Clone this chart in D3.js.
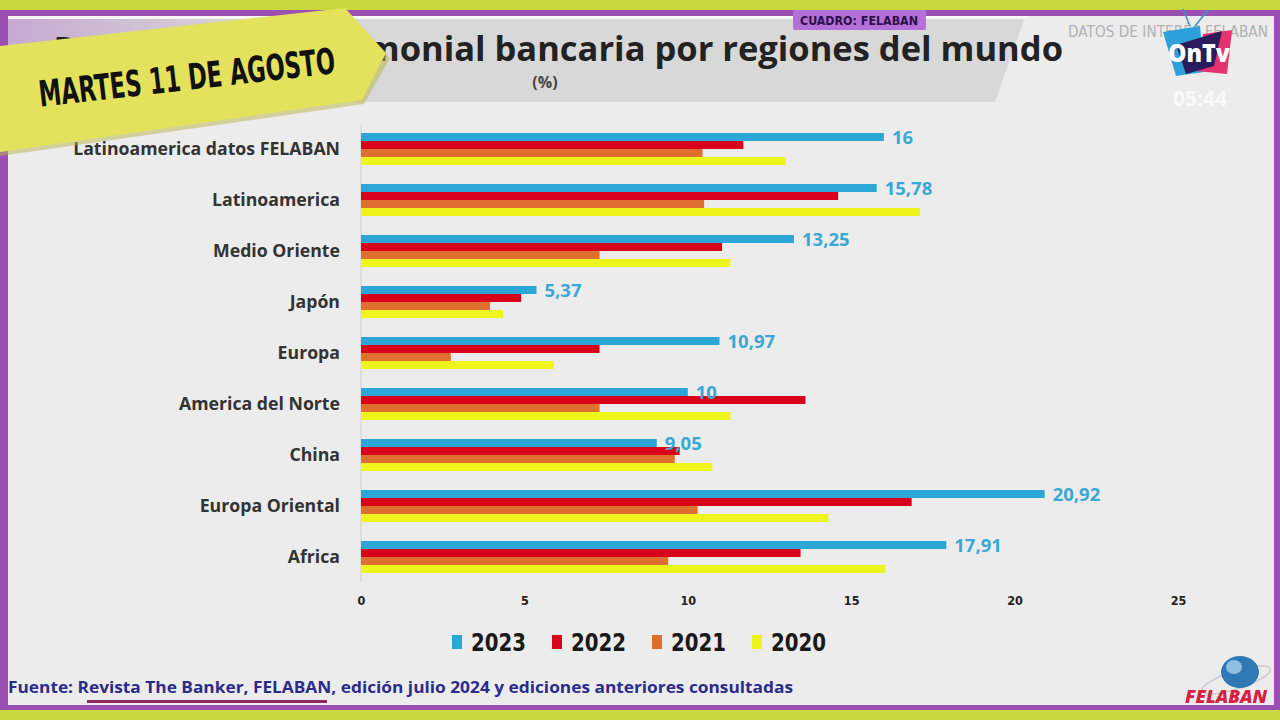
<!DOCTYPE html>
<html>
<head>
<meta charset="utf-8">
<script src="https://cdn.jsdelivr.net/npm/d3@7"></script>
<style>
  html, body { margin: 0; padding: 0; background: #c9d83c; }
  svg { display: block; }
  .cond { font-family: "DejaVu Sans Condensed", "DejaVu Sans", sans-serif; font-stretch: condensed; }
  .os { font-family: "Open Sans", "Noto Sans", sans-serif; }
</style>
</head>
<body>
<svg id="chart" width="1280" height="720"></svg>
<script>
// data (rentabilidad patrimonial, %)
const categories = ["Latinoamerica datos FELABAN", "Latinoamerica", "Medio Oriente", "Japón",
  "Europa", "America del Norte", "China", "Europa Oriental", "Africa"];
const years = ["2023", "2022", "2021", "2020"];
const v2023 = [16, 15.78, 13.25, 5.37, 10.97, 10, 9.05, 20.92, 17.91];
const v2022 = [11.7, 14.6, 11.05, 4.9, 7.3, 13.6, 9.75, 16.85, 13.45];
const v2021 = [10.45, 10.5, 7.3, 3.95, 2.75, 7.3, 9.6, 10.3, 9.4];
const v2020 = [13.0, 17.1, 11.3, 4.35, 5.9, 11.3, 10.75, 14.3, 16.05];
const xTicks = [0, 5, 10, 15, 20, 25];

const series = { "2023": v2023, "2022": v2022, "2021": v2021, "2020": v2020 };
const colors = { "2023": "#2ba6d6", "2022": "#d9001c", "2021": "#de6f2e", "2020": "#eef51c" };

const svg = d3.select("#chart");

// ---- frame ----
svg.append("rect").attr("width", 1280).attr("height", 720).attr("fill", "#c9d83c");
svg.append("rect").attr("x", 0).attr("y", 10).attr("width", 1280).attr("height", 700).attr("fill", "#9b4fb3");
svg.append("rect").attr("x", 8).attr("y", 16).attr("width", 1266).attr("height", 689).attr("fill", "#ececec");

const defs = svg.append("defs");
const grad = defs.append("linearGradient").attr("id", "bandgrad").attr("x1", "0").attr("x2", "1");
grad.append("stop").attr("offset", "0").attr("stop-color", "#c7a9d2");
grad.append("stop").attr("offset", "0.25").attr("stop-color", "#d8d8d8");
grad.append("stop").attr("offset", "1").attr("stop-color", "#d8d8d8");

// title band
svg.append("polygon")
  .attr("points", "8,17 1025,17 995,102 8,102")
  .attr("fill", "url(#bandgrad)");
svg.append("rect").attr("x", 8).attr("y", 16).attr("width", 1020).attr("height", 3).attr("fill", "#f6f6f6");

svg.append("text").attr("class", "os")
  .attr("x", 1063).attr("y", 61)
  .attr("text-anchor", "end")
  .attr("font-size", 34.5).attr("font-weight", 700).attr("fill", "#222")
  .text("Rentabilidad patrimonial bancaria por regiones del mundo");
svg.append("text").attr("class", "os")
  .attr("x", 545).attr("y", 88)
  .attr("text-anchor", "middle")
  .attr("font-size", 16).attr("font-weight", 700).attr("fill", "#444")
  .text("(%)");

// badge + header
svg.append("rect").attr("x", 793).attr("y", 10).attr("width", 133).attr("height", 20)
  .attr("rx", 2).attr("fill", "#b56fd8");
svg.append("text").attr("class", "cond")
  .attr("x", 859).attr("y", 25).attr("text-anchor", "middle")
  .attr("font-size", 13).attr("font-weight", 700).attr("fill", "#2b0f45")
  .attr("textLength", 118).attr("lengthAdjust", "spacingAndGlyphs")
  .text("CUADRO: FELABAN");
svg.append("text").attr("class", "cond")
  .attr("x", 1268).attr("y", 37).attr("text-anchor", "end")
  .attr("font-size", 15).attr("fill", "#b2b2b2")
  .attr("textLength", 200).attr("lengthAdjust", "spacingAndGlyphs")
  .text("DATOS DE INTERÉS FELABAN");

// ---- scales ----
const x = d3.scaleLinear().domain([0, 25]).range([361, 1178]);
const y = d3.scaleBand().domain(categories).range([123.5, 582.5])
  .paddingInner(0.3725).paddingOuter(0.186);
const yInner = d3.scaleBand().domain(years).range([0, y.bandwidth()]);

const fmt = d3.formatLocale({ decimal: ",", thousands: ".", grouping: [3], currency: ["", ""] }).format("~f");

// faint axis line
svg.append("line").attr("x1", x(0)).attr("x2", x(0))
  .attr("y1", 125).attr("y2", 582).attr("stroke", "#d0d0d0");

// ---- bars ----
const groups = svg.append("g").selectAll("g")
  .data(categories)
  .join("g")
  .attr("transform", d => `translate(0,${y(d)})`);

groups.selectAll("rect")
  .data((d, i) => years.map(yr => ({ year: yr, value: series[yr][i] })))
  .join("rect")
  .attr("x", x(0))
  .attr("y", d => yInner(d.year))
  .attr("width", d => x(d.value) - x(0))
  .attr("height", yInner.bandwidth())
  .attr("fill", d => colors[d.year]);

// value labels (2023 only)
groups.append("text").attr("class", "os")
  .attr("x", (d, i) => x(v2023[i]) + 8)
  .attr("y", yInner("2023") + yInner.bandwidth() / 2 + 7)
  .attr("font-size", 18.5).attr("font-weight", 700).attr("fill", "#3aa8d4")
  .text((d, i) => fmt(v2023[i]));

// category labels
svg.append("g").selectAll("text")
  .data(categories)
  .join("text").attr("class", "os")
  .attr("x", 340)
  .attr("y", d => y(d) + y.bandwidth() / 2 + 6)
  .attr("text-anchor", "end")
  .attr("font-size", 17.7).attr("font-weight", 700).attr("fill", "#333")
  .text(d => d);

// x axis
const xAxis = svg.append("g")
  .attr("transform", "translate(0,592)")
  .call(d3.axisBottom(x).tickValues(xTicks).tickSize(0).tickPadding(0).tickFormat(d3.format("d")));
xAxis.select(".domain").remove();
xAxis.selectAll("text").attr("class", "cond")
  .attr("font-size", 12.5).attr("font-weight", 700).attr("fill", "#222").attr("dy", "1em");

// ---- legend ----
const legend = svg.append("g").selectAll("g")
  .data(years)
  .join("g")
  .attr("transform", (d, i) => `translate(${452 + i * 100},0)`);
legend.append("rect").attr("x", 0).attr("y", 635).attr("width", 10).attr("height", 14)
  .attr("fill", d => colors[d]);
legend.append("text").attr("class", "cond")
  .attr("x", 19).attr("y", 651)
  .attr("font-size", 25).attr("font-weight", 700).attr("fill", "#1a1a1a")
  .attr("textLength", 55).attr("lengthAdjust", "spacingAndGlyphs")
  .text(d => d);

// ---- source ----
svg.append("text").attr("class", "os")
  .attr("x", 8).attr("y", 693)
  .attr("font-size", 16).attr("font-weight", 700).attr("fill", "#2b2b8c")
  .attr("textLength", 785).attr("lengthAdjust", "spacingAndGlyphs")
  .text("Fuente: Revista The Banker, FELABAN, edición julio 2024 y ediciones anteriores consultadas");
svg.append("rect").attr("x", 87).attr("y", 700).attr("width", 240).attr("height", 3).attr("fill", "#8f2a5c");

// FELABAN logo
const logo = svg.append("g");
logo.append("ellipse").attr("cx", 1236).attr("cy", 680).attr("rx", 36).attr("ry", 9)
  .attr("fill", "none").attr("stroke", "#c9c9d6").attr("stroke-width", 1.5)
  .attr("transform", "rotate(-18 1236 680)");
logo.append("ellipse").attr("cx", 1240).attr("cy", 672).attr("rx", 19).attr("ry", 16).attr("fill", "#2f78b4");
logo.append("ellipse").attr("cx", 1234).attr("cy", 667).attr("rx", 8).attr("ry", 7).attr("fill", "#8fc1e6");
logo.append("text").attr("class", "os")
  .attr("x", 1226).attr("y", 703).attr("text-anchor", "middle")
  .attr("font-size", 17).attr("font-weight", 800).attr("font-style", "italic").attr("fill", "#d5213f")
  .attr("textLength", 82).attr("lengthAdjust", "spacingAndGlyphs")
  .text("FELABAN");

// ---- date banner ----
svg.append("polygon")
  .attr("points", "0,50 345,12 390,58 364,104 0,156")
  .attr("fill", "#b9b64a").attr("opacity", 0.5);
svg.append("polygon")
  .attr("points", "0,46 345,8 386,53 362,100 0,152")
  .attr("fill", "#e4e25c");
svg.append("text").attr("class", "cond")
  .attr("x", 187).attr("y", 90)
  .attr("text-anchor", "middle")
  .attr("transform", "rotate(-6.5 187 78)")
  .attr("font-size", 36).attr("font-weight", 700).attr("fill", "#111")
  .attr("textLength", 298).attr("lengthAdjust", "spacingAndGlyphs")
  .text("MARTES 11 DE AGOSTO");

// ---- OnTv bug ----
const tv = svg.append("g");
tv.append("line").attr("x1", 1190).attr("y1", 26).attr("x2", 1183).attr("y2", 9).attr("stroke", "#3a90c8").attr("stroke-width", 1.5);
tv.append("line").attr("x1", 1195).attr("y1", 26).attr("x2", 1208).attr("y2", 10).attr("stroke", "#3a90c8").attr("stroke-width", 1.5);
tv.append("polygon").attr("points", "1163,32 1200,26 1204,72 1176,76").attr("fill", "#2d9fd9");
tv.append("polygon").attr("points", "1203,34 1232,30 1227,74 1196,71").attr("fill", "#e6336e");
tv.append("polygon").attr("points", "1176,45 1222,31 1214,66 1186,74").attr("fill", "#2a1b5c");
tv.append("text").attr("class", "os")
  .attr("x", 1199).attr("y", 62).attr("text-anchor", "middle")
  .attr("font-size", 24).attr("font-weight", 800).attr("fill", "#fff")
  .attr("textLength", 62).attr("lengthAdjust", "spacingAndGlyphs")
  .text("OnTv");
svg.append("text").attr("class", "os")
  .attr("x", 1200).attr("y", 106).attr("text-anchor", "middle")
  .attr("font-size", 21).attr("font-weight", 700).attr("fill", "#fafafa")
  .text("05:44");
</script>
</body>
</html>
